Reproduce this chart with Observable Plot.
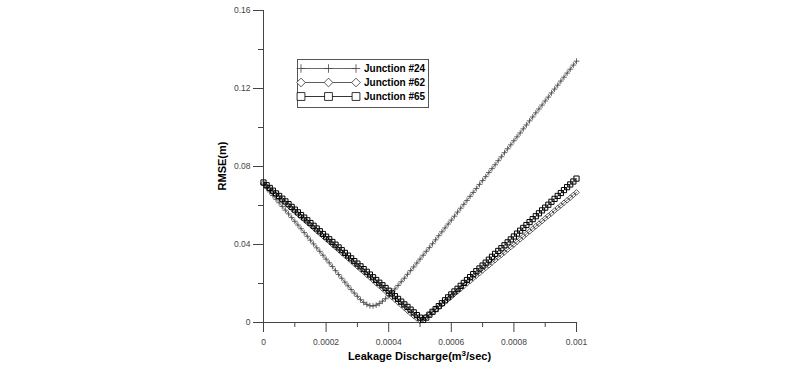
<!DOCTYPE html>
<html>
<head>
<meta charset="utf-8">
<script src="https://cdn.jsdelivr.net/npm/d3@7"></script>
<script src="https://cdn.jsdelivr.net/npm/@observablehq/plot@0.6"></script>
<style>
  html, body { margin: 0; padding: 0; background: #fff; }
  #chart { width: 800px; height: 370px; }
  svg { font-family: Arial, "Liberation Sans", sans-serif; }
</style>
</head>
<body>
<div id="chart"></div>
<script>
// Leakage discharge (m^3/sec)
const xs = [0,1e-5,2e-5,3e-5,4e-5,5e-5,6e-5,7e-5,8e-5,9e-5,
  10e-5,11e-5,12e-5,13e-5,14e-5,15e-5,16e-5,17e-5,18e-5,19e-5,
  20e-5,21e-5,22e-5,23e-5,24e-5,25e-5,26e-5,27e-5,28e-5,29e-5,
  30e-5,31e-5,32e-5,33e-5,34e-5,35e-5,36e-5,37e-5,38e-5,39e-5,
  40e-5,41e-5,42e-5,43e-5,44e-5,45e-5,46e-5,47e-5,48e-5,49e-5,
  50e-5,51e-5,52e-5,53e-5,54e-5,55e-5,56e-5,57e-5,58e-5,59e-5,
  60e-5,61e-5,62e-5,63e-5,64e-5,65e-5,66e-5,67e-5,68e-5,69e-5,
  70e-5,71e-5,72e-5,73e-5,74e-5,75e-5,76e-5,77e-5,78e-5,79e-5,
  80e-5,81e-5,82e-5,83e-5,84e-5,85e-5,86e-5,87e-5,88e-5,89e-5,
  90e-5,91e-5,92e-5,93e-5,94e-5,95e-5,96e-5,97e-5,98e-5,99e-5,100e-5];

// RMSE (m), Junction #24
const j24 = [0.0710,0.0690,0.0670,0.0651,0.0632,0.0614,0.0595,0.0576,0.0557,0.0538,
  0.0519,0.0500,0.0481,0.0461,0.0442,0.0422,0.0403,0.0383,0.0365,0.0345,
  0.0325,0.0306,0.0287,0.0266,0.0246,0.0227,0.0207,0.0188,0.0169,0.0151,
  0.0134,0.0117,0.0103,0.0093,0.0086,0.0085,0.0089,0.0097,0.0109,0.0122,
  0.0138,0.0155,0.0172,0.0190,0.0209,0.0227,0.0247,0.0266,0.0285,0.0305,
  0.0325,0.0345,0.0365,0.0384,0.0404,0.0424,0.0445,0.0465,0.0485,0.0505,
  0.0525,0.0545,0.0566,0.0586,0.0606,0.0626,0.0647,0.0667,0.0687,0.0708,
  0.0728,0.0748,0.0769,0.0789,0.0809,0.0830,0.0850,0.0871,0.0891,0.0911,
  0.0932,0.0952,0.0972,0.0993,0.1013,0.1034,0.1054,0.1075,0.1095,0.1115,
  0.1136,0.1156,0.1177,0.1197,0.1217,0.1238,0.1258,0.1279,0.1299,0.1320,0.1340];

// RMSE (m), Junction #62
const j62 = [0.0712,0.0698,0.0684,0.0670,0.0655,0.0641,0.0627,0.0613,0.0599,0.0585,
  0.0570,0.0556,0.0542,0.0528,0.0514,0.0500,0.0485,0.0471,0.0457,0.0443,
  0.0429,0.0415,0.0400,0.0386,0.0372,0.0358,0.0344,0.0330,0.0316,0.0301,
  0.0287,0.0273,0.0259,0.0245,0.0231,0.0216,0.0202,0.0188,0.0174,0.0160,
  0.0146,0.0131,0.0117,0.0103,0.0089,0.0075,0.0061,0.0047,0.0034,0.0021,
  0.0010,0.0018,0.0029,0.0041,0.0054,0.0067,0.0080,0.0093,0.0107,0.0120,
  0.0133,0.0147,0.0160,0.0173,0.0187,0.0200,0.0213,0.0227,0.0240,0.0253,
  0.0267,0.0280,0.0293,0.0307,0.0320,0.0334,0.0347,0.0360,0.0374,0.0387,
  0.0400,0.0414,0.0427,0.0440,0.0454,0.0467,0.0480,0.0494,0.0507,0.0520,
  0.0534,0.0547,0.0560,0.0574,0.0587,0.0600,0.0614,0.0627,0.0640,0.0654,0.0667];

// RMSE (m), Junction #65
const j65 = [0.0718,0.0704,0.0690,0.0676,0.0662,0.0649,0.0635,0.0621,0.0607,0.0593,
  0.0579,0.0565,0.0551,0.0538,0.0524,0.0510,0.0496,0.0482,0.0468,0.0454,
  0.0440,0.0427,0.0413,0.0399,0.0385,0.0371,0.0357,0.0343,0.0329,0.0315,
  0.0302,0.0288,0.0274,0.0260,0.0246,0.0232,0.0218,0.0204,0.0191,0.0177,
  0.0163,0.0149,0.0135,0.0121,0.0107,0.0093,0.0080,0.0066,0.0052,0.0038,
  0.0025,0.0013,0.0025,0.0040,0.0055,0.0069,0.0084,0.0099,0.0114,0.0129,
  0.0144,0.0159,0.0173,0.0188,0.0203,0.0218,0.0233,0.0248,0.0263,0.0277,
  0.0292,0.0307,0.0322,0.0337,0.0352,0.0367,0.0381,0.0396,0.0411,0.0426,
  0.0441,0.0456,0.0471,0.0485,0.0500,0.0515,0.0530,0.0545,0.0560,0.0575,
  0.0589,0.0604,0.0619,0.0634,0.0649,0.0664,0.0679,0.0694,0.0708,0.0723,0.0738];

const seriesNames = ["Junction #24", "Junction #62", "Junction #65"];
const xTicks = [0, 0.0002, 0.0004, 0.0006, 0.0008, 0.001];
const xTickLabels = ["0", "0.0002", "0.0004", "0.0006", "0.0008", "0.001"];
const xMinorTicks = [0.0001, 0.0003, 0.0005, 0.0007, 0.0009];
const yTicks = [0, 0.04, 0.08, 0.12, 0.16];
const yTickLabels = ["0", "0.04", "0.08", "0.12", "0.16"];
const yMinorTicks = [0.02, 0.06, 0.10, 0.14];

const series = [
  {name: seriesNames[0], values: j24, symbol: "plus",     r: 2,   stroke: "#444", sw: 0.8, legendSize: 26},
  {name: seriesNames[1], values: j62, symbol: "diamond2", r: 2.5, stroke: "#333", sw: 0.8, legendSize: 48},
  {name: seriesNames[2], values: j65, symbol: "square2",  r: 3.3, stroke: "#000", sw: 1,   legendSize: 78}
];

const rows = s => xs.map((x, i) => ({x, y: s.values[i]}));

const axisColor = "#444";
const marks = [
  Plot.ruleY([0], {x1: 0, x2: 0.001, stroke: axisColor, strokeWidth: 1}),
  Plot.ruleX([0], {y1: 0, y2: 0.16, stroke: axisColor, strokeWidth: 1}),
  Plot.axisX(xTicks, {tickSize: 10, tickPadding: 6, stroke: axisColor, fill: "#444", fontSize: 8.5,
    tickFormat: (d, i) => xTickLabels[xTicks.indexOf(d)], label: null}),
  Plot.axisX(xMinorTicks, {tickSize: 5, stroke: axisColor, tickFormat: () => "", label: null}),
  Plot.axisY(yTicks, {tickSize: 10, tickPadding: 3, stroke: axisColor, fill: "#444", fontSize: 8.5,
    tickFormat: (d, i) => yTickLabels[yTicks.indexOf(d)], label: null}),
  Plot.axisY(yMinorTicks, {tickSize: 5, stroke: axisColor, tickFormat: () => "", label: null})
];
for (const s of series) {
  marks.push(Plot.line(rows(s), {x: "x", y: "y", stroke: s.stroke, strokeWidth: 0.7}));
  marks.push(Plot.dot(rows(s), {x: "x", y: "y", symbol: () => s.symbol, r: s.r, fill: "none", stroke: s.stroke, strokeWidth: s.sw}));
}

const chart = Plot.plot({
  width: 800,
  height: 370,
  marginLeft: 263,
  marginRight: 224,
  marginTop: 10,
  marginBottom: 48,
  style: {fontFamily: "Arial, 'Liberation Sans', sans-serif", background: "#fff"},
  x: {domain: [0, 0.001]},
  y: {domain: [0, 0.16]},
  symbol: {type: "identity"},
  marks
});

document.getElementById("chart").appendChild(chart);

// Titles and legend (annotation, not data)
const svg = d3.select(chart);
const xs0 = 263, xs1 = 576;
const xt = svg.append("text")
  .attr("x", (xs0 + xs1) / 2).attr("y", 360)
  .attr("text-anchor", "middle")
  .attr("font-size", 11).attr("font-weight", "bold").attr("fill", "#000");
xt.append("tspan").text("Leakage Discharge(m");
xt.append("tspan").attr("font-size", 8).attr("dy", -4).text("3");
xt.append("tspan").attr("dy", 4).text("/sec)");

svg.append("text")
  .attr("transform", "translate(226,166) rotate(-90)")
  .attr("text-anchor", "middle")
  .attr("font-size", 11).attr("font-weight", "bold").attr("fill", "#000")
  .text("RMSE(m)");

const lg = svg.append("g").attr("text-anchor", "start");
lg.append("rect").attr("x", 297.5).attr("y", 59.5).attr("width", 131).attr("height", 48)
  .attr("fill", "#fff").attr("stroke", "#555").attr("stroke-width", 1);
const symMap = {plus: d3.symbolPlus, diamond2: d3.symbolDiamond2, square2: d3.symbolSquare2};
series.forEach((s, i) => {
  const yy = 68.5 + i * 14;
  lg.append("line").attr("x1", 301).attr("x2", 356).attr("y1", yy).attr("y2", yy)
    .attr("stroke", s.stroke).attr("stroke-width", 0.8);
  [301, 328.5, 356].forEach(cx => {
    lg.append("path").attr("d", d3.symbol(symMap[s.symbol], s.legendSize)())
      .attr("transform", `translate(${cx},${yy})`)
      .attr("fill", s.symbol === "plus" ? "none" : "#fff").attr("stroke", s.stroke).attr("stroke-width", 0.8);
  });
  lg.append("text").attr("x", 364).attr("y", yy).attr("dy", "0.35em")
    .attr("text-anchor", "start")
    .attr("font-size", 10).attr("font-weight", "bold").attr("fill", "#000").text(s.name);
});
</script>
</body>
</html>
